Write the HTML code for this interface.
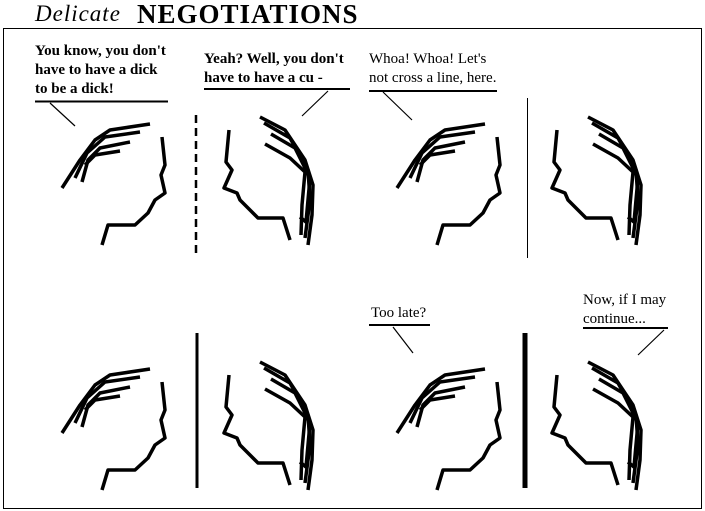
<!DOCTYPE html>
<html><head><style>
body{margin:0;width:705px;height:511px;background:#fff;position:relative;overflow:hidden;font-family:"Liberation Serif",serif}
.t{position:absolute;font-size:15px;line-height:19px;color:#000;white-space:nowrap}
.b{font-weight:bold}
</style></head><body>
<div class="t" style="left:35px;top:1px;font-size:23px;line-height:26px;font-style:italic;letter-spacing:1px">Delicate</div>
<div class="t" style="left:137px;top:0px;font-size:27px;line-height:28px;font-weight:bold;letter-spacing:1px">NEGOTIATIONS</div>
<div class="t b" style="left:35px;top:42px">You know, you don't<br>have to have a dick<br>to be a dick!</div>
<div class="t b" style="left:204px;top:50px">Yeah? Well, you don't<br>have to have a cu -</div>
<div class="t" style="left:369px;top:50px">Whoa! Whoa! Let's<br>not cross a line, here.</div>
<div class="t" style="left:371px;top:304px">Too late?</div>
<div class="t" style="left:583px;top:291px">Now, if I may<br>continue...</div>
<svg width="705" height="511" style="position:absolute;left:0;top:0">
<defs>
<g id="A" fill="none" stroke="#000" stroke-width="3.5" stroke-linejoin="round">
<polyline points="150,124 110,130 95,140 80,160 62,188"/>
<polyline points="140,132 105,137 87,153 75,178"/>
<polyline points="130,142 100,148 88,160 82,182"/>
<polyline points="120,151 95,155 85,165"/>
<polyline points="162,137 165,165 161,175 165,193 155,200 148,213 135,225 108,225 102,245"/>
</g>
<g id="B" fill="none" stroke="#000" stroke-width="3.5" stroke-linejoin="round">
<polyline points="260,117 285,130 305,160 313,185 312,215 308,245"/>
<polyline points="264,123 290,138 308,170 310,200 305,238"/>
<polyline points="271,134 295,148 310,178 306,222 300,217"/>
<polyline points="265,144 290,158 305,172 302,205 301,235"/>
<polyline points="229,130 226,162 232,170 224,188 237,193 240,200 258,218 283,218 290,240"/>
</g>
</defs>
<rect x="3.5" y="28.5" width="698" height="480" fill="none" stroke="#000" stroke-width="1"/>
<use href="#A"/><use href="#B"/>
<use href="#A" transform="translate(335,0)"/><use href="#B" transform="translate(328,0)"/>
<use href="#A" transform="translate(0,245)"/><use href="#B" transform="translate(0,245)"/>
<use href="#A" transform="translate(335,245)"/><use href="#B" transform="translate(328,245)"/>
<line x1="196" y1="115" x2="196" y2="258" stroke="#000" stroke-width="2.5" stroke-dasharray="8,5"/>
<line x1="527.5" y1="98" x2="527.5" y2="258" stroke="#000" stroke-width="1"/>
<line x1="197" y1="333" x2="197" y2="488" stroke="#000" stroke-width="3"/>
<line x1="525" y1="333" x2="525" y2="488" stroke="#000" stroke-width="5"/>
<g stroke="#000" stroke-width="1.2">
<line x1="35" y1="101.5" x2="168" y2="101.5" stroke-width="2"/><line x1="50" y1="103" x2="75" y2="126"/>
<line x1="204" y1="89" x2="350" y2="89" stroke-width="2"/><line x1="328" y1="91" x2="302" y2="116"/>
<line x1="369" y1="91" x2="497" y2="91" stroke-width="2"/><line x1="383" y1="92" x2="412" y2="120"/>
<line x1="369" y1="325" x2="430" y2="325" stroke-width="2"/><line x1="393" y1="327" x2="413" y2="353"/>
<line x1="583" y1="328" x2="668" y2="328" stroke-width="2"/><line x1="664" y1="330" x2="638" y2="355"/>
</g>
</svg>
</body></html>
